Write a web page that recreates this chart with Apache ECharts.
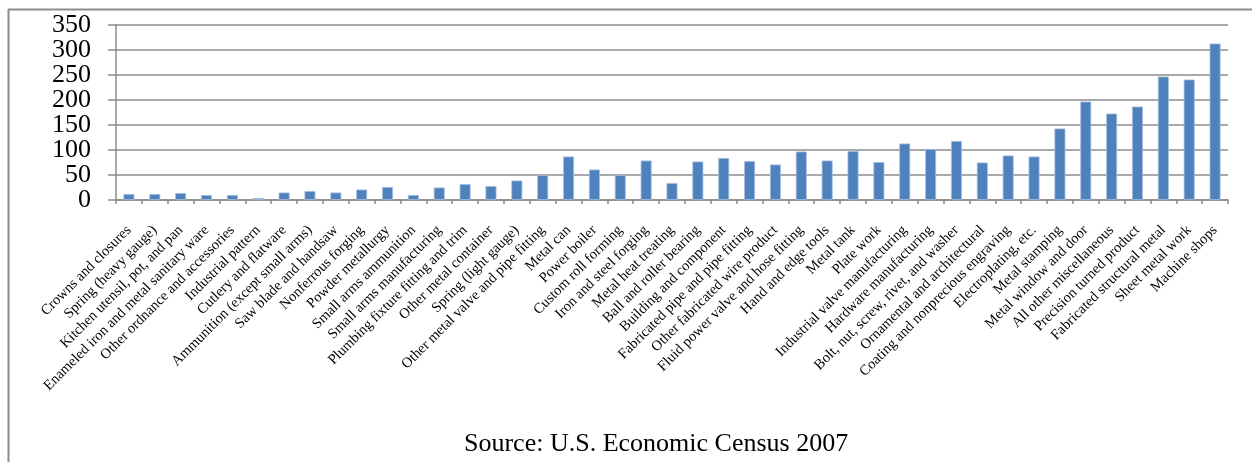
<!DOCTYPE html>
<html>
<head>
<meta charset="utf-8">
<script src="https://cdn.jsdelivr.net/npm/echarts@6/dist/echarts.min.js"></script>
<style>
  html, body { margin: 0; padding: 0; background: #fff; }
  #chart { width: 1252px; height: 462px; }
</style>
</head>
<body>
<div id="chart"></div>
<script>
// Fabricated metal industries, ordered from smallest to largest value
const industries = [
  'Crowns and closures',
  'Spring (heavy gauge)',
  'Kitchen utensil, pot, and pan',
  'Enameled iron and metal sanitary ware',
  'Other ordnance and accessories',
  'Industrial pattern',
  'Cutlery and flatware',
  'Ammunition (except small arms)',
  'Saw blade and handsaw',
  'Nonferrous forging',
  'Powder metallurgy',
  'Small arms ammunition',
  'Small arms manufacturing',
  'Plumbing fixture fitting and trim',
  'Other metal container',
  'Spring (light gauge)',
  'Other metal valve and pipe fitting',
  'Metal can',
  'Power boiler',
  'Custom roll forming',
  'Iron and steel forging',
  'Metal heat treating',
  'Ball and roller bearing',
  'Building and component',
  'Fabricated pipe and pipe fitting',
  'Other fabricated wire product',
  'Fluid power valve and hose fitting',
  'Hand and edge tools',
  'Metal tank',
  'Plate work',
  'Industrial valve manufacturing',
  'Hardware manufacturing',
  'Bolt, nut, screw, rivet, and washer',
  'Ornamental and architectural',
  'Coating and nonprecious engraving',
  'Electroplating, etc.',
  'Metal stamping',
  'Metal window and door',
  'All other miscellaneous',
  'Precision turned product',
  'Fabricated structural metal',
  'Sheet metal work',
  'Machine shops'
];

const values = [
  12, 12, 14, 10, 10, 4, 15, 18, 15, 21,
  26, 10, 25, 32, 28, 39, 50, 87, 61, 50,
  79, 34, 77, 84, 78, 71, 97, 79, 98, 76,
  113, 102, 118, 75, 89, 87, 143, 197, 173, 187,
  247, 241, 313
];

const yTicks = { min: 0, max: 350, step: 50 };

const sourceNote = 'Source: U.S. Economic Census 2007';

const serif = "'Liberation Serif', 'Times New Roman', serif";
const gray = '#8c8c8c';

// The large tick labels are taller than the tick spacing, so they are
// split over two stacked value axes (hundreds / fifties) to keep every
// label visible.
const labelStyle = { margin: 25, fontFamily: serif, fontSize: 26, color: '#000' };
const isHundred = v => v % (yTicks.step * 2) === 0;

const chart = echarts.init(document.getElementById('chart'));
chart.setOption({
  animation: false,
  backgroundColor: '#ffffff',
  title: {
    text: sourceNote,
    left: 459,
    top: 426,
    textStyle: { fontFamily: serif, fontSize: 26, fontWeight: 'normal', color: '#000' }
  },
  graphic: [
    // frame: top and left edges
    { type: 'line', shape: { x1: 8, y1: 9.5, x2: 1252, y2: 9.5 }, style: { stroke: gray, lineWidth: 2 } },
    { type: 'line', shape: { x1: 8.5, y1: 9, x2: 8.5, y2: 462 }, style: { stroke: gray, lineWidth: 2 } }
  ],
  grid: {
    left: 116, right: 24, top: 25, bottom: 262,
    containLabel: false,
    outerBoundsMode: 'none'
  },
  xAxis: {
    type: 'category',
    data: industries,
    boundaryGap: true,
    axisLine: { show: true, lineStyle: { color: gray, width: 1.5 } },
    axisTick: { show: true, length: 4, alignWithLabel: false, lineStyle: { color: gray, width: 1.5 } },
    axisLabel: {
      interval: 0,
      rotate: 45,
      margin: 28,
      hideOverlap: false,
      fontFamily: serif,
      fontSize: 14.5,
      color: '#000'
    },
    splitLine: { show: false }
  },
  yAxis: [
    {
      type: 'value',
      position: 'left',
      min: yTicks.min,
      max: yTicks.max,
      interval: yTicks.step,
      axisLine: { show: true, lineStyle: { color: gray, width: 1.5 } },
      axisTick: { show: true, length: 8, lineStyle: { color: gray, width: 1.5 } },
      axisLabel: Object.assign({}, labelStyle, {
        showMinLabel: true,
        showMaxLabel: true,
        formatter: v => (isHundred(v) ? String(v) : '')
      }),
      splitLine: { show: true, lineStyle: { color: gray, width: 1.5 } }
    },
    {
      type: 'value',
      position: 'left',
      offset: 0,
      min: yTicks.min,
      max: yTicks.max,
      interval: yTicks.step,
      axisLine: { show: false },
      axisTick: { show: false },
      axisLabel: Object.assign({}, labelStyle, {
        showMinLabel: true,
        showMaxLabel: true,
        formatter: v => (isHundred(v) ? '' : String(v))
      }),
      splitLine: { show: false }
    }
  ],
  series: [{
    type: 'bar',
    yAxisIndex: 0,
    data: values,
    barWidth: 11,
    itemStyle: { color: '#4f81bd', borderColor: '#a9c0de', borderWidth: 0.8 }
  }]
});
</script>
</body>
</html>
